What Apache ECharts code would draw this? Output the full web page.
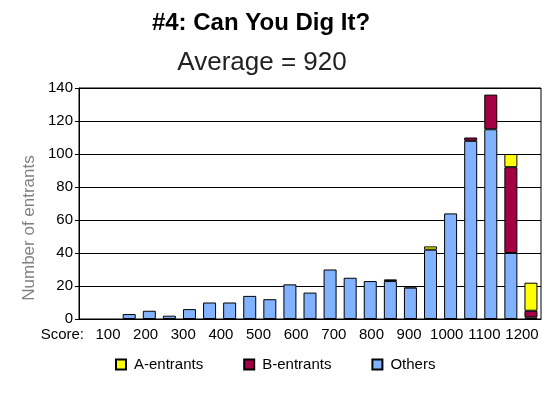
<!DOCTYPE html>
<html>
<head>
<meta charset="utf-8">
<script src="https://cdn.jsdelivr.net/npm/echarts@6/dist/echarts.min.js"></script>
<style>
html,body{margin:0;padding:0;background:#fff;}
#chart{width:554px;height:395px;}
</style>
</head>
<body>
<div id="chart"></div>
<script>
// Score bins (one slot per bar position)
const categories = ["100","150","200","250","300","350","400","450","500","550","600","650","700","750","800","850","900","950","1000","1050","1100","1150","1200"];
const others     = [0,0,3,5,2,6,10,10,14,12,21,16,30,25,23,23,19,42,64,108,115,40,1];
const bEntrants  = [0,0,0,0,0,0,0,0,0,0,0,0,0,0,0,1,1,0,0,2,21,52,4];
const aEntrants  = [0,0,0,0,0,0,0,0,0,0,0,0,0,0,0,0,0,2,0,0,0,8,17];
const tickLabels = ["100","200","300","400","500","600","700","800","900","1000","1100","1200"];

const FONT = '"Liberation Sans", Arial, sans-serif';
const skipZero = arr => arr.map(v => (v === 0 ? null : v));
const chart = echarts.init(document.getElementById('chart'), null, {renderer:'canvas'});

const option = {
  animation: false,
  backgroundColor: '#fff',
  textStyle: { fontFamily: FONT },
  graphic: [
    { type:'text', x:261, y:23, style:{ text:'#4: Can You Dig It?', fontSize:24, fontWeight:'bold', fontFamily:FONT, fill:'#000', align:'center', verticalAlign:'middle' } },
    { type:'text', x:262, y:63, style:{ text:'Average = 920', fontSize:26, fontFamily:FONT, fill:'#222', align:'center', verticalAlign:'middle' } },
    { type:'text', x:29, y:228, rotation: Math.PI/2, style:{ text:'Number of entrants', fontSize:17, fontFamily:FONT, fill:'#808080', align:'center', verticalAlign:'middle' } },
    { type:'text', x:84, y:335, style:{ text:'Score:', fontSize:15, fontFamily:FONT, fill:'#000', align:'right', verticalAlign:'middle' } }
  ],
  legend: {
    data: ['A-entrants','B-entrants','Others'],
    left: 115, top: 357, padding: 0,
    itemWidth: 10, itemHeight: 10, itemGap: 40,
    icon: 'rect',
    textStyle: { fontSize:15, color:'#000', fontFamily:FONT, padding:[0,0,0,3] }
  },
  grid: [
    { left:79, right:13, top:88, bottom:76, show:true, borderColor:'#000', borderWidth:1, backgroundColor:'transparent' },
    { left:108, right:32, top:88, bottom:76, show:false }
  ],
  xAxis: [
    { type:'category', gridIndex:0, data:categories, boundaryGap:true,
      axisLine:{ show:true, lineStyle:{ color:'#000', width:1 } },
      axisTick:{ show:false }, axisLabel:{ show:false }, splitLine:{ show:false } },
    { type:'category', gridIndex:1, data:tickLabels, boundaryGap:false,
      axisLine:{ show:false }, axisTick:{ show:false }, splitLine:{ show:false },
      axisLabel:{ show:true, interval:0, margin:8, fontSize:15, color:'#000', fontFamily:FONT } }
  ],
  yAxis: [
    { type:'value', gridIndex:0, min:0, max:140, interval:20,
      axisLine:{ show:true, lineStyle:{ color:'#000', width:1 } },
      axisTick:{ show:true, length:4, lineStyle:{ color:'#000' } },
      axisLabel:{ fontSize:15, color:'#000', margin:6, fontFamily:FONT },
      splitLine:{ show:true, lineStyle:{ color:'#000', width:1 } } },
    { type:'value', gridIndex:1, min:0, max:1, show:false }
  ],
  series: [
    { name:'Others', type:'bar', stack:'total', data:skipZero(others), barWidth:13,
      itemStyle:{ color:'#80B2FF', borderColor:'#000', borderWidth:1 } },
    { name:'B-entrants', type:'bar', stack:'total', data:skipZero(bEntrants), barWidth:13,
      itemStyle:{ color:'#A50044', borderColor:'#000', borderWidth:1 } },
    { name:'A-entrants', type:'bar', stack:'total', data:skipZero(aEntrants), barWidth:13,
      itemStyle:{ color:'#FFFF00', borderColor:'#000', borderWidth:1 } },
    { name:'labels', type:'line', xAxisIndex:1, yAxisIndex:1, data:[], silent:true }
  ]
};
chart.setOption(option);
</script>
</body>
</html>
